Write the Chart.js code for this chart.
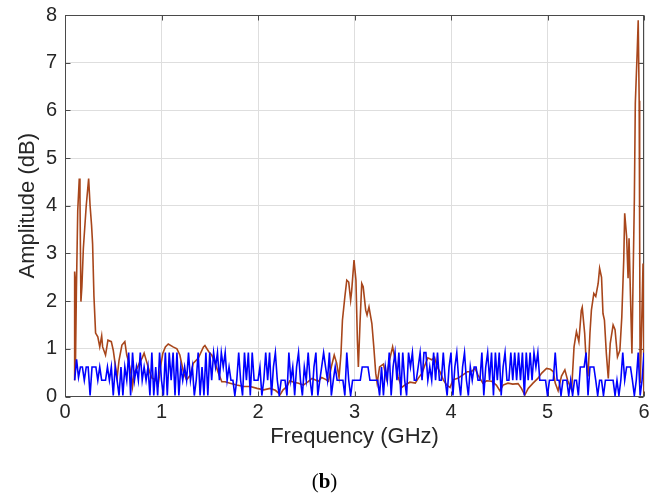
<!DOCTYPE html>
<html>
<head>
<meta charset="utf-8">
<script src="https://cdn.jsdelivr.net/npm/chart.js@4.4.1/dist/chart.umd.min.js"></script>
<style>
  html, body { margin: 0; padding: 0; background: #fff; }
  #wrap { position: relative; width: 649px; height: 498px; }
  #caption {
    position: absolute; left: 0; top: 469px; width: 649px;
    text-align: center; color: #000;
    font-family: "Liberation Serif", "DejaVu Serif", serif; font-size: 21px;
  }
</style>
</head>
<body>
<div id="wrap">
  <canvas id="spectrum" width="649" height="498"></canvas>
  <div id="caption">(<b>b</b>)</div>
</div>
<script>
// x ticks (GHz) and y ticks (dB)
const freqTicks = [0, 1, 2, 3, 4, 5, 6];
const ampTicks = [0, 1, 2, 3, 4, 5, 6, 7, 8];

// brown trace: [frequency GHz, amplitude dB]
const brownTrace = [
  [0.095,0.35],[0.100,2.62],[0.104,2.50],[0.108,0.60],[0.118,2.20],[0.132,3.90],[0.148,4.57],[0.155,4.20],
  [0.165,1.99],[0.175,2.30],[0.190,3.10],[0.220,4.00],[0.245,4.57],[0.260,4.00],[0.275,3.60],[0.286,3.20],
  [0.300,2.10],[0.317,1.33],[0.340,1.25],[0.360,1.04],[0.380,1.27],[0.390,1.04],[0.420,0.87],[0.445,1.18],
  [0.480,1.15],[0.500,0.97],[0.524,0.62],[0.540,0.39],[0.560,0.76],[0.590,1.08],[0.620,1.15],[0.640,0.87],
  [0.660,0.73],[0.690,0.42],[0.700,0.21],[0.720,0.52],[0.750,0.60],[0.770,0.70],[0.800,0.81],[0.820,0.91],
  [0.850,0.70],[0.876,0.52],[0.900,0.39],[0.940,0.35],[0.966,0.24],[0.990,0.62],[1.014,0.91],[1.040,1.04],
  [1.070,1.10],[1.120,1.04],[1.160,1.00],[1.190,0.87],[1.230,0.49],[1.260,0.35],[1.300,0.45],[1.330,0.70],
  [1.380,0.80],[1.435,1.04],[1.450,1.07],[1.490,0.94],[1.520,0.87],[1.556,0.70],[1.590,0.49],[1.625,0.31],
  [1.660,0.31],[1.710,0.28],[1.780,0.24],[1.850,0.21],[1.920,0.21],[1.990,0.17],[2.060,0.14],[2.125,0.17],
  [2.180,0.13],[2.230,0.04],[2.260,0.14],[2.300,0.21],[2.330,0.33],[2.370,0.30],[2.420,0.28],[2.470,0.24],
  [2.520,0.31],[2.560,0.38],[2.590,0.35],[2.625,0.32],[2.660,0.40],[2.700,0.36],[2.730,0.32],[2.760,0.62],
  [2.790,0.87],[2.815,0.70],[2.840,0.40],[2.860,0.90],[2.875,1.60],[2.900,2.09],[2.920,2.44],[2.940,2.40],
  [2.960,2.02],[2.970,2.20],[2.995,2.86],[3.015,2.44],[3.030,1.18],[3.040,0.62],[3.057,1.53],[3.075,2.37],
  [3.090,2.30],[3.116,1.81],[3.130,1.71],[3.150,1.88],[3.180,1.53],[3.200,1.04],[3.220,0.49],[3.235,0.28],
  [3.260,0.62],[3.300,0.68],[3.330,0.38],[3.360,0.74],[3.395,1.04],[3.420,0.78],[3.450,0.42],[3.490,0.19],
  [3.520,0.24],[3.575,0.30],[3.630,0.28],[3.660,0.38],[3.700,0.49],[3.730,0.66],[3.760,0.81],[3.800,0.77],
  [3.830,0.82],[3.857,0.62],[3.885,0.52],[3.920,0.35],[3.955,0.24],[3.990,0.19],[4.020,0.35],[4.070,0.38],
  [4.120,0.45],[4.170,0.52],[4.210,0.52],[4.250,0.59],[4.280,0.45],[4.330,0.28],[4.370,0.33],[4.420,0.32],
  [4.470,0.24],[4.506,0.12],[4.540,0.24],[4.590,0.28],[4.640,0.26],[4.695,0.27],[4.730,0.17],[4.765,0.03],
  [4.800,0.17],[4.850,0.28],[4.900,0.38],[4.940,0.49],[4.990,0.59],[5.030,0.57],[5.060,0.52],[5.080,0.28],
  [5.110,0.12],[5.145,0.43],[5.180,0.56],[5.210,0.33],[5.250,0.14],[5.275,1.04],[5.300,1.36],[5.325,1.15],
  [5.350,1.80],[5.360,1.87],[5.385,1.33],[5.400,0.77],[5.420,0.42],[5.440,1.33],[5.455,1.81],[5.480,2.16],
  [5.500,2.10],[5.525,2.37],[5.540,2.69],[5.560,2.50],[5.575,1.74],[5.590,1.60],[5.610,0.90],[5.630,0.38],
  [5.650,1.11],[5.680,1.50],[5.700,1.40],[5.725,0.83],[5.750,0.97],[5.770,1.67],[5.790,2.86],[5.800,3.84],
  [5.820,3.35],[5.835,2.48],[5.845,3.32],[5.860,2.10],[5.875,0.90],[5.885,2.23],[5.900,4.12],[5.910,6.15],
  [5.930,7.26],[5.940,7.89],[5.950,6.20],[5.955,3.43],[5.960,0.28],[5.970,1.00],[5.990,2.79],[6.000,0.05]
];

// blue trace: sweep from 0.1 GHz in 20 MHz steps, one row per 0.2 GHz
const blueStart = 0.1;
const blueStep = 0.02;
const blueAmp = [
  0.34,0.78,0.40,0.62,0.62,0.34,0.62,0.62,0.02,0.62,
  0.62,0.62,0.34,0.62,0.34,0.34,0.34,0.62,0.34,0.62,
  0.02,0.62,0.34,0.02,0.62,0.02,0.62,0.34,0.92,0.02,
  0.92,0.34,0.62,0.34,0.92,0.34,0.62,0.34,0.62,0.02,
  0.92,0.02,0.62,0.02,0.92,0.34,0.02,0.92,0.02,0.92,
  0.34,0.92,0.02,0.92,0.02,0.62,0.34,0.62,0.34,0.92,
  0.34,0.62,0.02,0.34,0.92,0.02,0.62,0.02,0.92,0.02,
  0.92,0.34,0.92,0.62,0.92,0.34,0.92,0.62,0.92,0.34,
  0.62,0.34,0.34,0.02,0.34,0.92,0.34,0.02,0.92,0.34,
  0.92,0.02,0.92,0.34,0.34,0.34,0.62,0.02,0.34,0.92,
  0.34,0.92,0.02,0.62,0.92,0.34,0.02,0.34,0.34,0.34,
  0.02,0.92,0.34,0.62,0.02,0.62,0.92,0.34,0.02,0.62,
  0.34,0.92,0.34,0.02,0.62,0.92,0.02,0.34,0.62,0.92,
  0.62,0.34,0.92,0.02,0.34,0.62,0.34,0.34,0.34,0.34,
  0.02,0.92,0.34,0.02,0.34,0.34,0.34,0.34,0.34,0.62,
  0.62,0.62,0.62,0.34,0.34,0.34,0.34,0.34,0.02,0.62,
  0.02,0.62,0.34,0.92,0.02,0.62,0.92,0.34,0.92,0.02,
  0.92,0.34,0.02,0.92,0.62,0.92,0.34,0.34,0.62,0.92,
  0.34,0.92,0.92,0.34,0.62,0.34,0.92,0.34,0.92,0.34,
  0.34,0.92,0.34,0.02,0.62,0.92,0.02,0.62,0.92,0.34,
  0.02,0.62,0.92,0.34,0.02,0.62,0.34,0.62,0.62,0.34,
  0.34,0.92,0.02,0.62,0.92,0.34,0.92,0.02,0.92,0.34,
  0.92,0.02,0.62,0.92,0.34,0.34,0.92,0.34,0.92,0.34,
  0.92,0.34,0.92,0.02,0.92,0.34,0.92,0.34,0.92,0.62,
  0.92,0.34,0.34,0.34,0.34,0.02,0.34,0.34,0.34,0.92,
  0.34,0.34,0.02,0.34,0.34,0.34,0.02,0.34,0.02,0.34,
  0.34,0.02,0.62,0.62,0.62,0.92,0.02,0.62,0.62,0.62,
  0.34,0.02,0.34,0.34,0.02,0.34,0.34,0.34,0.34,0.34,
  0.02,0.34,0.02,0.34,0.92,0.34,0.62,0.62,0.62,0.34,
  0.02,0.34,0.92,0.02,0.34,0.92
];

const textColor = '#262626';
const tickFont = { family: '"Liberation Sans", Arial, sans-serif', size: 20 };
const titleFont = { family: '"Liberation Sans", Arial, sans-serif', size: 22 };

// frame and inward tick marks, drawn under the traces
const axesBox = {
  id: 'axesBox',
  beforeDatasetsDraw(chart) {
    const { ctx, chartArea: a, scales: { x, y } } = chart;
    const L = Math.round(a.left) + 0.5, R = Math.round(a.right) - 0.5;
    const T = Math.round(a.top) + 0.5, B = Math.round(a.bottom) - 0.5;
    const len = 5;
    ctx.save();
    ctx.strokeStyle = '#4a4a4a';
    ctx.lineWidth = 1;
    ctx.strokeRect(L, T, R - L, B - T);
    ctx.beginPath();
    freqTicks.forEach(v => {
      const px = Math.round(x.getPixelForValue(v)) + 0.5;
      ctx.moveTo(px, B); ctx.lineTo(px, B - len);
      ctx.moveTo(px, T); ctx.lineTo(px, T + len);
    });
    ampTicks.forEach(v => {
      const py = Math.round(y.getPixelForValue(v)) + 0.5;
      ctx.moveTo(L, py); ctx.lineTo(L + len, py);
      ctx.moveTo(R, py); ctx.lineTo(R - len, py);
    });
    ctx.stroke();
    ctx.restore();
  }
};

new Chart(document.getElementById('spectrum').getContext('2d'), {
  type: 'line',
  data: {
    datasets: [
      {
        label: 'blue',
        data: blueAmp.map((v, i) => ({ x: blueStart + i * blueStep, y: v })),
        borderColor: '#0000ff',
        borderWidth: 1.6,
        order: 0,
      },
      {
        label: 'brown',
        data: brownTrace.map(([f, a]) => ({ x: f, y: a })),
        borderColor: '#a8461b',
        borderWidth: 1.6,
        order: 1,
      },
    ],
  },
  options: {
    responsive: false,
    animation: false,
    layout: { padding: { left: 0, right: 5, top: 15, bottom: 0 } },
    elements: { point: { radius: 0 }, line: { tension: 0 } },
    plugins: { legend: { display: false }, tooltip: { enabled: false } },
    scales: {
      x: {
        type: 'linear',
        min: 0,
        max: 6,
        afterBuildTicks: s => { s.ticks = freqTicks.map(v => ({ value: v })); },
        afterFit: s => { s.height = 101.5; s.paddingLeft = 0; s.paddingRight = 0; },
        ticks: { color: textColor, font: tickFont, padding: 4, maxRotation: 0, autoSkip: false },
        grid: { color: '#dedede', drawTicks: false },
        border: { display: false },
        title: { display: true, text: 'Frequency (GHz)', color: textColor, font: titleFont, padding: { top: 0, bottom: 47.5 } },
      },
      y: {
        min: 0,
        max: 8,
        afterBuildTicks: s => { s.ticks = ampTicks.map(v => ({ value: v })); },
        afterFit: s => { s.width = 65; s.paddingTop = 0; s.paddingBottom = 0; },
        ticks: { color: textColor, font: tickFont, padding: 8 },
        grid: { color: '#dedede', drawTicks: false },
        border: { display: false },
        title: { display: true, text: 'Amplitude (dB)', color: textColor, font: titleFont, padding: { top: 15, bottom: 0 } },
      },
    },
  },
  plugins: [axesBox],
});
</script>
</body>
</html>
